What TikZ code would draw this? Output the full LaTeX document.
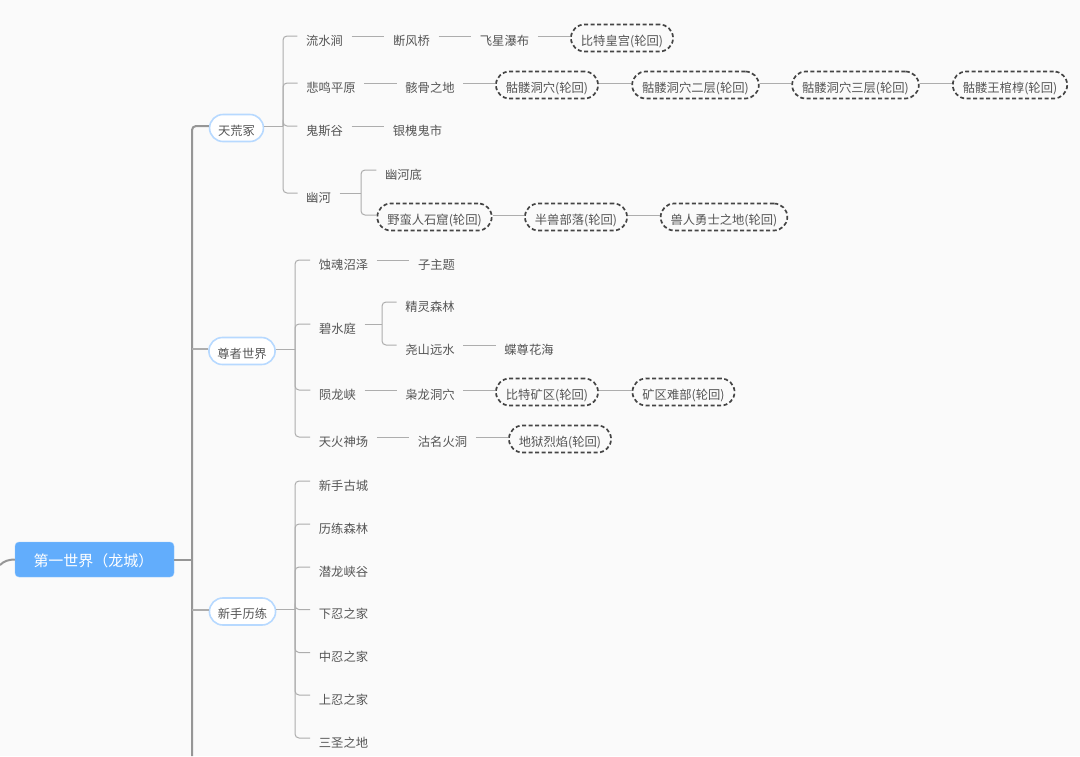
\documentclass[tikz,border=0pt]{standalone}
\usepackage{fontspec}
\setmainfont{Noto Sans CJK SC}
\usetikzlibrary{calc}
\definecolor{bgcol}{HTML}{FAFAFA}
\definecolor{txtcol}{HTML}{555555}
\definecolor{linkcol}{HTML}{ADADAD}
\definecolor{buscol}{HTML}{969696}
\definecolor{dashcol}{HTML}{444444}
\definecolor{pillcol}{HTML}{B7D9FF}
\definecolor{rootcol}{HTML}{62ADFC}
\begin{document}
\begin{tikzpicture}[x=1pt,y=-1pt]
\tikzset{topic/.style = {inner xsep=8.5pt, inner ysep=0pt, text height=14.4pt, text depth=0pt, text=txtcol, font=\fontsize{12.3}{14}\selectfont},
  dashpill/.style = {topic, draw=dashcol, line width=1.7pt, dash pattern=on 4pt off 2.5pt, rounded corners=13.5pt, minimum height=27pt, inner xsep=10pt},
  mainpill/.style = {topic, draw=pillcol, line width=1.6pt, fill=white, rounded corners=13.5pt, minimum height=27pt, inner xsep=8.5pt},
  rootbox/.style = {inner ysep=0pt, text height=14.4pt, text depth=0pt, text=white, fill=rootcol, draw=rootcol!70!white, rounded corners=4pt, minimum width=159pt, minimum height=35pt, font=\fontsize{15}{17}\selectfont},
  link/.style = {draw=linkcol, line width=1pt, rounded corners=4pt},
  buslink/.style = {draw=buscol, line width=2pt, rounded corners=4pt},
  stublink/.style = {draw=linkcol, line width=2pt}}

\fill[bgcol] (0,0) rectangle (1080,756);
\useasboundingbox (0,0) rectangle (1080,756);

\node[rootbox] (root) at (94.5,559.5) {\kern-2pt 第一世界（龙城）};
\node[mainpill] (tjz) at (236.5,128) {天荒冢};
\node[mainpill] (zzsj) at (242,351) {尊者世界};
\node[mainpill] (xsll) at (242.5,611.5) {新手历练};

\coordinate (st) at (0,565);
\coordinate (bus) at (192,756);
\coordinate (busr) at (192,559.5);
\coordinate (bus2) at (192,349);
\coordinate (bus3) at (192,609.5);
\coordinate (tr1) at (283,126);
\coordinate (tr2) at (361,193);
\coordinate (tr3) at (295,349);
\coordinate (tr4) at (382,324);
\coordinate (tr5) at (295,609.5);

\node[topic] (lsj) at (324.5,38) {流水涧};
\node[topic] (dfq) at (411.5,38) {断风桥};
\node[topic] (fxpb) at (504.5,38) {飞星瀑布};
\node[dashpill] (btg) at (622,38) {比特皇宫(轮回)};

\node[topic] (bmpy) at (331,85) {悲鸣平原};
\node[topic] (hgzd) at (430,85) {骸骨之地};
\node[dashpill] (kl1) at (547,85) {骷髅洞穴(轮回)};
\node[dashpill] (kl2) at (695.5,85) {骷髅洞穴二层(轮回)};
\node[dashpill] (kl3) at (855.5,85) {骷髅洞穴三层(轮回)};
\node[dashpill] (klw) at (1010,85) {骷髅王棺椁(轮回)};

\node[topic] (gsg) at (324.5,128) {鬼斯谷};
\node[topic] (yhgs) at (417.5,128) {银槐鬼市};

\node[topic] (yh) at (318.5,195) {幽河};
\node[topic] (yhd) at (403.5,172) {幽河底};
\node[dashpill] (ymr) at (434.5,217) {野蛮人石窟(轮回)};
\node[dashpill] (bsbl) at (576,217) {半兽部落(轮回)};
\node[dashpill] (srys) at (724,217) {兽人勇士之地(轮回)};

\node[topic] (shzz) at (343.5,262) {蚀魂沼泽};
\node[topic] (zzt) at (436.5,262) {子主题};
\node[topic] (bst) at (337.5,326) {碧水庭};
\node[topic] (jlsl) at (430,304) {精灵森林};
\node[topic] (ysys) at (430,347) {尧山远水};
\node[topic] (dzhh) at (529,347) {蝶尊花海};
\node[topic] (ylx) at (337.5,392) {陨龙峡};
\node[topic] (xldx) at (430,392) {枭龙洞穴};
\node[dashpill] (btkq) at (547,392) {比特矿区(轮回)};
\node[dashpill] (kqnb) at (683.5,392) {矿区难部(轮回)};
\node[topic] (thsc) at (343.5,439) {天火神场};
\node[topic] (gmhd) at (442.5,439) {沽名火洞};
\node[dashpill] (dylh) at (560,439) {地狱烈焰(轮回)};

\node[topic] (xsgc) at (343.5,483) {新手古城};
\node[topic] (llsl) at (343.5,526) {历练森林};
\node[topic] (qlxg) at (343.5,569) {潜龙峡谷};
\node[topic] (xrzj) at (343.5,611.5) {下忍之家};
\node[topic] (zrzj) at (343.5,654.5) {中忍之家};
\node[topic] (srzj) at (343.5,697) {上忍之家};
\node[topic] (sszd) at (343.5,740) {三圣之地};

\draw[buslink] (st) .. controls (4,561) and (9,559.5) .. (root.west);
\draw[buslink] (root.east) -- (busr);
\draw[buslink] (bus) |- ([yshift=2pt]tjz.west);
\draw[stublink] (bus2) -- ([yshift=2pt]zzsj.west);
\draw[stublink] (bus3) -- ([yshift=2pt]xsll.west);

\draw[link] ([yshift=2pt]tjz.east) -- (tr1);
\draw[link] ([yshift=2pt]zzsj.east) -- (tr3);
\draw[link] ([yshift=2pt]xsll.east) -- (tr5);
\draw[link] ([yshift=2pt]yh.east) -- (tr2);
\draw[link] ([yshift=2pt]bst.east) -- (tr4);

\foreach \c in {lsj,bmpy,gsg,yh}
  \draw[link] (tr1) |- ([yshift=2pt]\c.west);
\foreach \c in {yhd,ymr}
  \draw[link] (tr2) |- ([yshift=2pt]\c.west);
\foreach \c in {shzz,bst,ylx,thsc}
  \draw[link] (tr3) |- ([yshift=2pt]\c.west);
\foreach \c in {jlsl,ysys}
  \draw[link] (tr4) |- ([yshift=2pt]\c.west);
\foreach \c in {xsgc,llsl,qlxg,xrzj,zrzj,srzj,sszd}
  \draw[link] (tr5) |- ([yshift=2pt]\c.west);

\foreach \a/\b in {lsj/dfq,dfq/fxpb,fxpb/btg,bmpy/hgzd,hgzd/kl1,kl1/kl2,kl2/kl3,kl3/klw,gsg/yhgs,ymr/bsbl,bsbl/srys,shzz/zzt,ysys/dzhh,ylx/xldx,xldx/btkq,btkq/kqnb,thsc/gmhd,gmhd/dylh}
  \draw[link] ([yshift=2pt]\a.east) -- ([yshift=2pt]\b.west);
\end{tikzpicture}
\end{document}
